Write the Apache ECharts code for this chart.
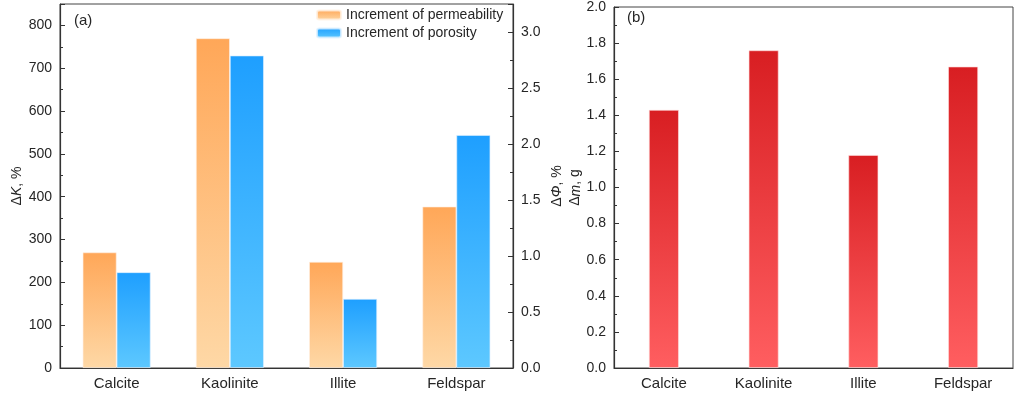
<!DOCTYPE html>
<html>
<head>
<meta charset="utf-8">
<script src="https://cdn.jsdelivr.net/npm/echarts@6/dist/echarts.min.js"></script>
<style>html,body{margin:0;padding:0;background:#fff}#c{width:1024px;height:398px}</style>
</head>
<body>
<div id="c"></div>
<script>
var categories = ['Calcite', 'Kaolinite', 'Illite', 'Feldspar'];
var permeabilityIncrement = [270, 770, 248, 377];
var porosityIncrement = [0.855, 2.79, 0.617, 2.08];
var massChange = [1.43, 1.76, 1.18, 1.67];

var FONT = '"Liberation Sans", Arial, sans-serif';
var TXT = '#262626';
function grad(top, bottom) {
  return new echarts.graphic.LinearGradient(0, 0, 0, 1, [
    {offset: 0, color: top}, {offset: 1, color: bottom}
  ]);
}
var chart = echarts.init(document.getElementById('c'), null, {renderer: 'canvas'});
var axisLine = {show: true, lineStyle: {color: '#333', width: 1.2}};
var richName = {
  n: {fontSize: 14, fontFamily: FONT, color: TXT},
  i: {fontSize: 14, fontFamily: FONT, color: TXT, fontStyle: 'italic'}
};
function yAxisBase(o) {
  return Object.assign({
    type: 'value',
    axisLine: axisLine,
    axisTick: {show: true, inside: true, length: 5, lineStyle: {color: '#333'}},
    minorTick: {show: true, splitNumber: 2, length: 3, lineStyle: {color: '#333'}},
    splitLine: {show: false},
    axisLabel: {color: TXT, fontSize: 14, fontFamily: FONT, margin: 8, showMaxLabel: false},
    nameLocation: 'middle',
    nameRotate: 90,
    nameTextStyle: {color: TXT, fontSize: 14, fontFamily: FONT, rich: richName}
  }, o);
}
var xBase = {
  type: 'category',
  data: categories,
  axisLine: axisLine,
  axisTick: {show: false},
  axisLabel: {color: TXT, fontSize: 15, fontFamily: FONT, margin: 8}
};
var option = {
  animation: false,
  grid: [
    {left: 60, right: 511, top: 4, bottom: 30, show: true, borderColor: '#444', borderWidth: 1},
    {left: 614, right: 11, top: 4, bottom: 30, show: true, borderColor: '#444', borderWidth: 1}
  ],
  legend: {
    left: 311, top: 3, orient: 'vertical', itemWidth: 24, itemHeight: 9, itemGap: 4,
    textStyle: {color: TXT, fontSize: 14, fontFamily: FONT},
    data: ['Increment of permeability', 'Increment of porosity']
  },
  xAxis: [
    Object.assign({gridIndex: 0}, xBase),
    Object.assign({gridIndex: 1}, xBase)
  ],
  yAxis: [
    yAxisBase({gridIndex: 0, min: 0, max: 850, interval: 100, position: 'left',
      name: '{n|Δ}{i|K}{n|, %}', nameGap: 36}),
    yAxisBase({gridIndex: 0, min: 0, max: 3.25, interval: 0.5, position: 'right',
      axisLabel: {color: TXT, fontSize: 14, fontFamily: FONT, margin: 8, showMaxLabel: false,
        formatter: function (v) { return v.toFixed(1); }},
      name: '{n|Δ}{i|Φ}{n|, %}', nameGap: 37}),
    yAxisBase({gridIndex: 1, min: 0, max: 2.0, interval: 0.2, position: 'left',
      axisLabel: {color: TXT, fontSize: 14, fontFamily: FONT, margin: 8, showMaxLabel: true,
        formatter: function (v) { return v.toFixed(1); }},
      name: '{n|Δ}{i|m}{n|, g}', nameGap: 30})
  ],
  graphic: [
    {type: 'text', left: 74, top: 13, style: {text: '(a)', fontSize: 15, fontFamily: FONT, fill: TXT}},
    {type: 'text', left: 627, top: 10, style: {text: '(b)', fontSize: 15, fontFamily: FONT, fill: TXT}}
  ],
  series: [
    {
      name: 'Increment of permeability', type: 'bar', xAxisIndex: 0, yAxisIndex: 0,
      data: permeabilityIncrement, barWidth: 34, barGap: '0%',
      itemStyle: {color: grad('#FFA758', '#FED8A6'), borderColor: 'rgba(255,240,225,0.8)', borderWidth: 0.8}
    },
    {
      name: 'Increment of porosity', type: 'bar', xAxisIndex: 0, yAxisIndex: 1,
      data: porosityIncrement, barWidth: 34, barGap: '0%',
      itemStyle: {color: grad('#1E9FFF', '#5DC8FF'), borderColor: 'rgba(220,240,255,0.8)', borderWidth: 0.8}
    },
    {
      name: 'Mass change', type: 'bar', xAxisIndex: 1, yAxisIndex: 2,
      data: massChange, barWidth: 30,
      itemStyle: {color: grad('#D81E22', '#FF5E60'), borderColor: 'rgba(255,220,220,0.8)', borderWidth: 0.8}
    }
  ]
};
chart.setOption(option);
</script>
</body>
</html>
